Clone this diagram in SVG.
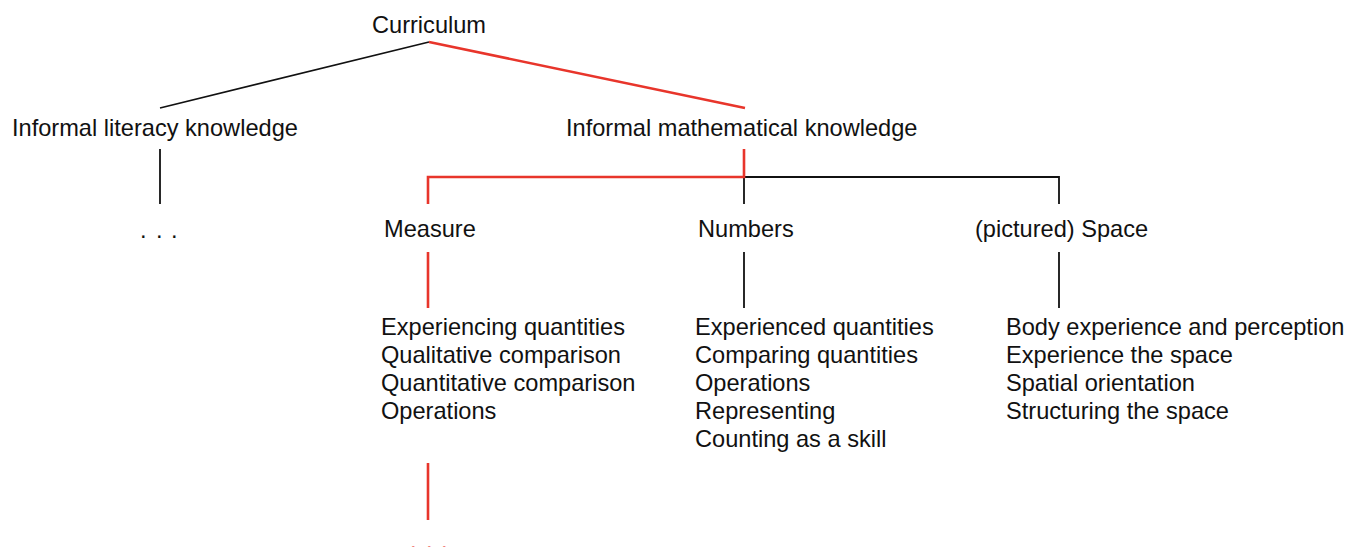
<svg xmlns="http://www.w3.org/2000/svg" width="1346" height="547" viewBox="0 0 1346 547">
  <style>
    text { font-family: "Liberation Sans", Arial, sans-serif; font-size: 23.6px; fill: #111; }
    .dots-red { fill: #e8352b; }
    .edge { fill: none; stroke: #111; stroke-width: 1.8; }
    .edge.hl { stroke: #e8352b; stroke-width: 2.6; }
  </style>
  <rect width="1346" height="547" fill="#fff"/>

  <!-- connectors -->
  <g id="connectors">
    <line class="edge" x1="429" y1="42" x2="160" y2="108"/>
    <line class="edge hl" x1="429" y1="42" x2="745" y2="108"/>
    <line class="edge" x1="160" y1="149" x2="160" y2="204"/>
    <polyline class="edge" points="744,177 1059,177 1059,204"/>
    <line class="edge" x1="744" y1="177" x2="744" y2="204"/>
    <polyline class="edge hl" points="744,149 744,177 428,177 428,204"/>
    <line class="edge hl" x1="428" y1="252" x2="428" y2="308"/>
    <line class="edge" x1="744" y1="252" x2="744" y2="308"/>
    <line class="edge" x1="1059" y1="252" x2="1059" y2="308"/>
    <line class="edge hl" x1="428" y1="463" x2="428" y2="520"/>
  </g>

  <g id="node-curriculum">
    <text x="429" y="33" text-anchor="middle">Curriculum</text>
  </g>
  <g id="node-literacy">
    <text x="12" y="136">Informal literacy knowledge</text>
  </g>
  <g id="node-literacy-more">
    <text x="140 156 171" y="238">...</text>
  </g>
  <g id="node-math">
    <text x="566" y="136">Informal mathematical knowledge</text>
  </g>
  <g id="node-measure">
    <text x="384" y="237">Measure</text>
  </g>
  <g id="node-numbers">
    <text x="698" y="237">Numbers</text>
  </g>
  <g id="node-space">
    <text x="975" y="237">(pictured) Space</text>
  </g>
  <g id="node-measure-topics">
    <text x="381" y="335">Experiencing quantities</text>
    <text x="381" y="363">Qualitative comparison</text>
    <text x="381" y="391">Quantitative comparison</text>
    <text x="381" y="419">Operations</text>
  </g>
  <g id="node-numbers-topics">
    <text x="695" y="335">Experienced quantities</text>
    <text x="695" y="363">Comparing quantities</text>
    <text x="695" y="391">Operations</text>
    <text x="695" y="419">Representing</text>
    <text x="695" y="447">Counting as a skill</text>
  </g>
  <g id="node-space-topics">
    <text x="1006" y="335">Body experience and perception</text>
    <text x="1006" y="363">Experience the space</text>
    <text x="1006" y="391">Spatial orientation</text>
    <text x="1006" y="419">Structuring the space</text>
  </g>
  <g id="node-measure-more">
    <text class="dots-red" x="410 426 441" y="549">...</text>
  </g>
</svg>
